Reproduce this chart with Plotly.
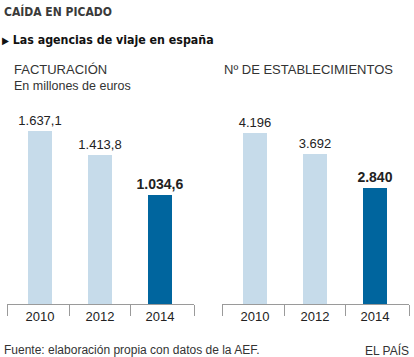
import plotly.graph_objects as go

years = ["2010", "2012", "2014"]
facturacion = [1637.1, 1413.8, 1034.6]
establecimientos = [4196, 3692, 2840]
colors = ["#c6dbea", "#c6dbea", "#00659e"]

W, H = 414, 357
def px(x):
    return x / W
def py(y):
    return 1 - y / H

fig = go.Figure()
xpos = [0, 1, 2]
fig.add_trace(go.Bar(
    x=xpos, y=facturacion, marker=dict(color=colors, line=dict(width=0)), width=0.4,
    texttemplate=["%{y:,.1f}", "%{y:,.1f}", "<b>%{y:,.1f}</b>"],
    textposition="outside", cliponaxis=False, constraintext="none",
    textfont=dict(family="Liberation Sans, Arial", size=[13, 13, 14], color="#222"),
    xaxis="x", yaxis="y", hoverinfo="skip"))
fig.add_trace(go.Bar(
    x=xpos, y=establecimientos, marker=dict(color=colors, line=dict(width=0)), width=0.4,
    texttemplate=["%{y:,.0f}", "%{y:,.0f}", "<b>%{y:,.0f}</b>"],
    textposition="outside", cliponaxis=False, constraintext="none",
    textfont=dict(family="Liberation Sans, Arial", size=[13, 13, 14], color="#222"),
    xaxis="x2", yaxis="y2", hoverinfo="skip"))

xr = [(7 - 40) / 60, (194 - 40) / 60]
bounds = [xr[0], 0.5 - 1/60, 1.5 + 0.5/60, xr[1]]
xcommon = dict(range=xr, tickvals=xpos, ticktext=years, ticks="", showline=True,
               linecolor="#9a9a9a", linewidth=1, showgrid=False, zeroline=False,
               tickfont=dict(family="Liberation Sans, Arial", size=13, color="#222"),
               minor=dict(tickvals=bounds, ticks="outside", ticklen=11, tickcolor="#9a9a9a",
                          tickwidth=1, showgrid=False),
               fixedrange=True)
ydom = [py(304), py(100)]
fig.update_layout(
    width=W, height=H, margin=dict(l=0, r=0, t=0, b=0),
    paper_bgcolor="white", plot_bgcolor="white", showlegend=False,
    separators=",.", bargap=0,
    xaxis=dict(domain=[px(7), px(194)], anchor="y", **xcommon),
    xaxis2=dict(domain=[px(222), px(409)], anchor="y2", **xcommon),
    yaxis=dict(domain=ydom, range=[0, 1930], visible=False, anchor="x", fixedrange=True),
    yaxis2=dict(domain=ydom, range=[0, 5006], visible=False, anchor="x2", fixedrange=True),
)

def ann(text, x, y, size, xanchor="left", color="#333", family="Liberation Sans, Arial"):
    fig.add_annotation(text=text, x=px(x), y=py(y), xref="paper", yref="paper",
                       xanchor=xanchor, yanchor="middle", showarrow=False,
                       font=dict(family=family, size=size, color=color))

ann("<b>CAÍDA EN PICADO</b>", 2, 12, 12, color="#3a3a3a", family="DejaVu Sans Condensed, DejaVu Sans")
ann("<b><span style='font-size:10px'>▶</span> Las agencias de viaje en españa</b>", 0, 40, 12.3, color="#111", family="DejaVu Sans Condensed, DejaVu Sans")
ann("FACTURACIÓN", 12, 70, 13)
ann("En millones de euros", 12, 86, 12.5)
ann("Nº DE ESTABLECIMIENTOS", 222, 70, 13)
ann("Fuente: elaboración propia con datos de la AEF.", 2, 350, 12)
ann("EL PAÍS", 411, 350, 12, xanchor="right")

fig.write_html("out.html", config={"displayModeBar": False, "staticPlot": True},
               post_script="document.body.style.margin='0';document.body.style.overflow='hidden';")
